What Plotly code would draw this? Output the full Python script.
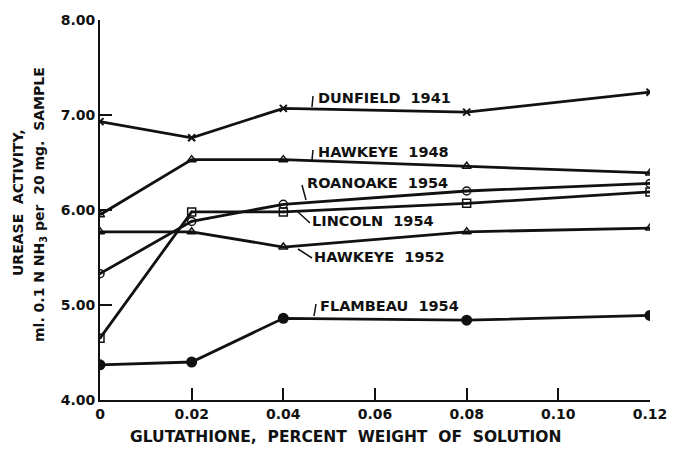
import plotly.graph_objects as go

x_vals = [0, 0.02, 0.04, 0.08, 0.12]
dunfield_1941 = [6.93, 6.76, 7.07, 7.03, 7.24]
hawkeye_1948 = [5.95, 6.53, 6.53, 6.46, 6.39]
roanoake_1954 = [5.33, 5.88, 6.06, 6.20, 6.28]
lincoln_1954 = [4.65, 5.98, 5.98, 6.07, 6.19]
hawkeye_1952 = [5.77, 5.77, 5.61, 5.77, 5.81]
flambeau_1954 = [4.37, 4.40, 4.86, 4.84, 4.89]

x_ticks = [0, 0.02, 0.04, 0.06, 0.08, 0.10, 0.12]
x_ticktext = ["0", "0.02", "0.04", "0.06", "0.08", "0.10", "0.12"]
y_ticks = [4, 5, 6, 7, 8]
y_ticktext = ["4.00", "5.00", "6.00", "7.00", "8.00"]

FONT = "DejaVu Sans"
BLACK = "#111111"

series = [
    ("DUNFIELD 1941", dunfield_1941, dict(symbol="x-thin", size=7, line=dict(width=2, color=BLACK))),
    ("HAWKEYE 1948", hawkeye_1948, dict(symbol="triangle-up-open", size=8, line=dict(width=1.5, color=BLACK))),
    ("ROANOAKE 1954", roanoake_1954, dict(symbol="circle-open-dot", size=8, line=dict(width=1.5, color=BLACK))),
    ("LINCOLN 1954", lincoln_1954, dict(symbol="square-open-dot", size=8, line=dict(width=1.5, color=BLACK))),
    ("HAWKEYE 1952", hawkeye_1952, dict(symbol="triangle-up-open", size=8, line=dict(width=1.5, color=BLACK))),
    ("FLAMBEAU 1954", flambeau_1954, dict(symbol="circle", size=11, line=dict(width=0, color=BLACK))),
]

fig = go.Figure()
for name, ys, mk in series:
    fig.add_trace(go.Scatter(
        x=x_vals, y=ys, mode="lines+markers", name=name,
        line=dict(color=BLACK, width=2.8),
        marker=dict(color=BLACK, **mk),
        showlegend=False,
    ))

# page-pixel helpers (plot area spans x 100..650, y 20..400 on the page)
def px2x(px):
    return (px - 100) / 550 * 0.12

def py2y(py):
    return 4 + (400 - py) / 95

labels = [
    ("DUNFIELD  1941", 316, 98, (313, 96, 312, 107)),
    ("HAWKEYE  1948", 316, 152, (313, 150, 312, 160)),
    ("ROANOAKE  1954", 305, 183, (302, 185, 306, 200)),
    ("LINCOLN  1954", 310, 221, (298, 212, 310, 223)),
    ("HAWKEYE  1952", 312, 257, (298, 249, 312, 258)),
    ("FLAMBEAU  1954", 318, 306, (316, 304, 314, 316)),
]
for text, px, py, (x0, y0, x1, y1) in labels:
    fig.add_annotation(x=px2x(px), y=py2y(py), xref="x", yref="y", text=text,
                       showarrow=False, xanchor="left", yanchor="middle",
                       font=dict(family=FONT, size=14.5, color=BLACK, weight="bold"))
    fig.add_shape(type="line", xref="x", yref="y",
                  x0=px2x(x0), y0=py2y(y0), x1=px2x(x1), y1=py2y(y1),
                  line=dict(color=BLACK, width=1.5))

# figure sized so that figure + 8px body margin fills the 675x455 window
W, H = 659, 439
L, T, PW, PH = 92, 12, 550, 380
OFF = 8
fig.add_annotation(xref="paper", yref="paper", x=(346 - OFF - L) / PW, y=-(437 - OFF - T - PH) / PH,
                   text="GLUTATHIONE,  PERCENT  WEIGHT  OF  SOLUTION", showarrow=False,
                   xanchor="center", yanchor="middle",
                   font=dict(family=FONT, size=15.5, color=BLACK, weight="bold"))
fig.add_annotation(xref="paper", yref="paper", x=(18 - OFF - L) / PW, y=1 - (203 - OFF - T) / PH,
                   textangle=-90, xanchor="center", yanchor="middle",
                   text="UREASE  ACTIVITY,", showarrow=False,
                   font=dict(family=FONT, size=14, color=BLACK, weight="bold"))
fig.add_annotation(xref="paper", yref="paper", x=(40 - OFF - L) / PW, y=1 - (205 - OFF - T) / PH,
                   textangle=-90, xanchor="center", yanchor="middle",
                   text="ml. 0.1 N NH<sub>3</sub> per  20 mg.  SAMPLE", showarrow=False,
                   font=dict(family=FONT, size=14, color=BLACK, weight="bold"))

fig.update_xaxes(range=[0, 0.12], tickvals=x_ticks, ticktext=x_ticktext,
                 ticks="inside", ticklen=12, tickwidth=2, tickcolor=BLACK,
                 showline=True, linewidth=2, linecolor=BLACK, showgrid=False, zeroline=False,
                 automargin=False, ticklabeloverflow="allow",
                 tickfont=dict(family=FONT, size=14, color=BLACK, weight="bold"))
fig.update_yaxes(range=[4, 8], tickvals=y_ticks, ticktext=y_ticktext,
                 ticks="inside", ticklen=12, tickwidth=2, tickcolor=BLACK,
                 showline=True, linewidth=2, linecolor=BLACK, showgrid=False, zeroline=False,
                 automargin=False, ticklabeloverflow="allow",
                 tickfont=dict(family=FONT, size=14, color=BLACK, weight="bold"))

fig.update_layout(width=W, height=H, plot_bgcolor="white", paper_bgcolor="white",
                  margin=dict(l=L, r=W - L - PW, t=T, b=H - T - PH))

fig.write_html("out.html")
